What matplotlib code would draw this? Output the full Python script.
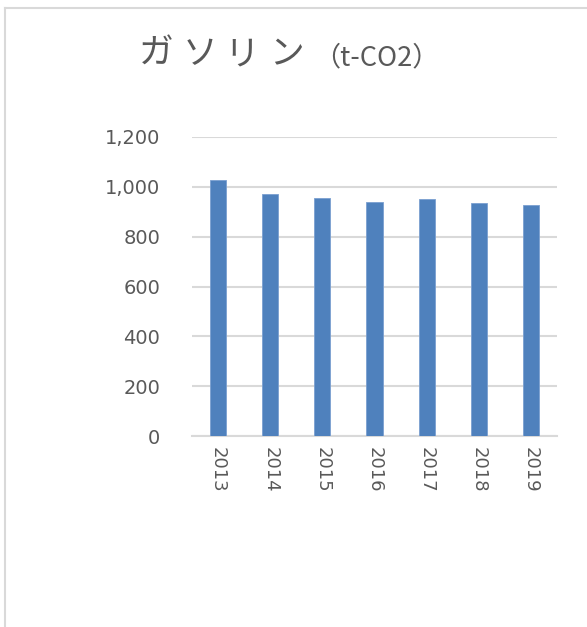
import matplotlib
matplotlib.use("Agg")
import matplotlib.pyplot as plt
from matplotlib.lines import Line2D
from matplotlib.ticker import FuncFormatter

plt.rcParams['font.family'] = ['DejaVu Sans', 'Noto Sans CJK JP']

years = ['2013', '2014', '2015', '2016', '2017', '2018', '2019']
emissions = [1026, 971, 954, 939, 950, 935, 927]
yticks = [0, 200, 400, 600, 800, 1000, 1200]

title_chars = ['ガ', 'ソ', 'リ', 'ン']
title_char_x = [156, 200, 242, 286]  # pixel centres of the spaced-out katakana
title_unit = '（t-CO2）'

text_color = '#595959'
grid_color = '#d9d9d9'
bar_color = '#4f81bd'

W, H = 587, 627
fig = plt.figure(figsize=(W / 100, H / 100), dpi=100)
ax = fig.add_axes([0.327, 0.3046, 0.622, 0.4769])

x = range(len(years))
ax.bar(x, emissions, width=0.31, color=bar_color, edgecolor='#7a9fd0', linewidth=0.6, zorder=3)

ax.set_xlim(-0.5, len(years) - 0.5)
ax.set_ylim(0, 1200)
ax.set_yticks(yticks)
ax.yaxis.set_major_formatter(FuncFormatter(lambda v, p: f'{int(v):,}'))
ax.set_xticks(list(x))
ax.set_xticklabels(years, rotation=270, fontsize=13, color=text_color)
ax.tick_params(axis='y', length=0, pad=23, labelsize=14, labelcolor=text_color)
ax.tick_params(axis='x', length=0, pad=8)

ax.grid(axis='y', color=grid_color, linewidth=1.5, zorder=0)
for side in ['top', 'right', 'left']:
    ax.spines[side].set_visible(False)
ax.spines['bottom'].set_color(grid_color)
ax.spines['bottom'].set_linewidth(1.5)

# title: katakana set one by one with wide spacing, then the unit
for ch, px in zip(title_chars, title_char_x):
    fig.text(px / W, 1 - 64 / H, ch, ha='center', va='baseline',
             fontsize=25, color=text_color, family=['Noto Sans CJK JP'])
fig.text(313 / W, 1 - 65 / H, title_unit, ha='left', va='baseline',
         fontsize=19.5, color=text_color, family=['Noto Sans CJK JP'])

# chart frame edges
fig.add_artist(Line2D([0.008, 1.0], [0.988, 0.988], color=grid_color, linewidth=1.5))
fig.add_artist(Line2D([0.008, 0.008], [0.0, 0.988], color=grid_color, linewidth=1.5))

fig.savefig('out.png', dpi=100)
